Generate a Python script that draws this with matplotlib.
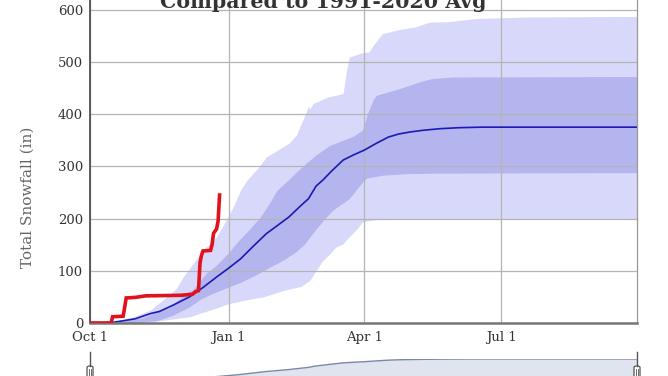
import matplotlib
matplotlib.use("Agg")
import matplotlib.pyplot as plt
from matplotlib.lines import Line2D
from matplotlib.patches import FancyBboxPatch
import numpy as np

# days since Oct 1
mean_days = [0, 15, 30, 40, 46, 55, 66, 75, 84, 92, 100, 108, 117, 125, 132, 140, 145, 150,
             155, 160, 168, 175, 182, 190, 198, 205, 213, 221, 232, 245, 260, 365]
mean_vals = [0, 1, 8, 18, 22, 34, 50, 68, 88, 105, 123, 146, 171, 188, 203, 225, 238, 262,
             275, 290, 312, 322, 331, 344, 356, 362, 366, 369, 372, 374, 375, 375]

dark_hi_days = [0, 20, 35, 45, 53, 60, 64, 68, 77, 84, 92, 99, 106, 113, 119, 124, 132, 138,
                143, 150, 159, 168, 175, 181, 184, 188, 190, 201, 212, 220, 227, 240, 365]
dark_hi_vals = [0, 3, 10, 22, 30, 48, 58, 63, 95, 111, 135, 159, 180, 203, 229, 254, 275, 292,
                305, 322, 340, 350, 358, 370, 400, 428, 436, 445, 455, 463, 468, 471, 472]

dark_lo_days = [0, 30, 45, 55, 66, 73, 80, 92, 100, 112, 120, 128, 136, 142, 146, 150, 155,
                161, 167, 172, 178, 183, 194, 210, 230, 365]
dark_lo_vals = [0, 1, 5, 15, 31, 45, 55, 69, 78, 95, 108, 120, 135, 150, 165, 180, 197,
                216, 228, 238, 260, 277, 283, 286, 287, 288]

light_hi_days = [0, 7, 20, 29, 40, 51, 57, 62, 70, 77, 84, 90, 95, 100, 104, 112, 117, 125,
                 132, 137, 143, 145, 146, 148, 158, 165, 168, 170, 172, 180, 185, 188, 194,
                 205, 216, 225, 238, 256, 290, 365]
light_hi_vals = [0, 2, 6, 12, 25, 50, 65, 89, 120, 145, 165, 195, 222, 255, 273, 299, 318, 332,
                 344, 360, 401, 415, 410, 420, 433, 437, 440, 480, 509, 517, 519, 532, 554,
                 562, 567, 576, 577, 583, 586, 587]

light_lo_days = [0, 40, 66, 80, 92, 105, 115, 128, 140, 146, 150, 154, 159, 163, 168, 172,
                 177, 181, 190, 205, 365]
light_lo_vals = [0, 2, 12, 25, 37, 45, 50, 62, 70, 82, 100, 118, 132, 145, 152, 165,
                 180, 194, 198, 200, 200]

season_days = [0, 14, 15, 22, 23, 24, 30, 37, 60, 68, 70, 72, 73, 74, 75, 80, 81, 82, 84, 85, 86]
season_vals = [0, 0, 12, 13, 30, 48, 49, 52, 53, 55, 60, 62, 115, 130, 138, 139, 150, 172, 180, 195, 245]

tick_days = [0, 92, 182, 273]
tick_labels = ["Oct 1", "Jan 1", "Apr 1", "Jul 1"]
y_ticks = [0, 100, 200, 300, 400, 500, 600]

W, H = 668, 376


def fx(px):
    return px / W


def fy(py):
    return 1 - py / H


plt.rcParams['font.family'] = ['DejaVu Serif']

fig = plt.figure(figsize=(6.68, 3.76), dpi=100)
ax = fig.add_axes([fx(90), fy(323), fx(547), 326.4 / H])

grid_x = np.arange(0, 366)


def band(d1, v1, d2, v2, color):
    lo = np.interp(grid_x, d1, v1)
    hi = np.interp(grid_x, d2, v2)
    ax.fill_between(grid_x, lo, hi, color=color, lw=0, zorder=0.2)


band(light_lo_days, light_lo_vals, light_hi_days, light_hi_vals, '#d8d8fb')
band(dark_lo_days, dark_lo_vals, dark_hi_days, dark_hi_vals, '#b4b4ee')

ax.plot(mean_days, mean_vals, color='#1a1ab4', lw=1.2, zorder=2)
ax.plot(season_days, season_vals, color='#e0121c', lw=2.6, zorder=3,
        solid_joinstyle='miter')

ax.set_xlim(0, 363)
ax.set_ylim(0, 625)
ax.set_xticks(tick_days)
ax.set_xticklabels(tick_labels)
ax.set_yticks(y_ticks)
ax.set_axisbelow(True)
ax.grid(True, color='#b4b4b4', lw=0.9)
ax.tick_params(length=0, labelsize=9.5, colors='#333333')
ax.tick_params(axis='x', pad=6)
ax.tick_params(axis='y', pad=5)
ax.spines['left'].set_color('#444444')
ax.spines['left'].set_linewidth(1.2)
ax.spines['bottom'].set_color('#777777')
ax.spines['bottom'].set_linewidth(1.8)
ax.spines['right'].set_color('#999999')
ax.spines['right'].set_linewidth(0.9)
ax.spines['top'].set_visible(False)
ax.set_ylabel("Total Snowfall (in)", fontsize=11, color='#666666')
ax.yaxis.set_label_coords((35 - 90) / 547, (323 - 197) / 326.4)

fig.text(fx(323), fy(8), "Compared to 1991-2020 Avg", ha='center', va='baseline',
         fontsize=14.8, fontweight='bold', color='#333333')

# navigator strip
nav = fig.add_axes([fx(90), fy(382), fx(547), 23 / H])
nav.fill_between(mean_days, 0, mean_vals, color='#dfe4ee', lw=0)
nav.plot(mean_days, mean_vals, color='#7c87a6', lw=1.0)
nav.set_xlim(0, 363)
nav.set_ylim(0, 375)
nav.axis('off')

for hx in (90, 637):
    fig.add_artist(Line2D([fx(hx), fx(hx)], [fy(352), fy(366)], color='#555555', lw=1.0))
    fig.add_artist(FancyBboxPatch((fx(hx - 3), fy(380)), fx(6), 14 / H,
                                  boxstyle='round,pad=0,rounding_size=0.004',
                                  facecolor='white', edgecolor='#555555', lw=0.9))
    for dx in (-1, 1):
        fig.add_artist(Line2D([fx(hx + dx), fx(hx + dx)], [fy(369), fy(376)],
                              color='#555555', lw=0.6))

fig.savefig('out.png', dpi=100)
